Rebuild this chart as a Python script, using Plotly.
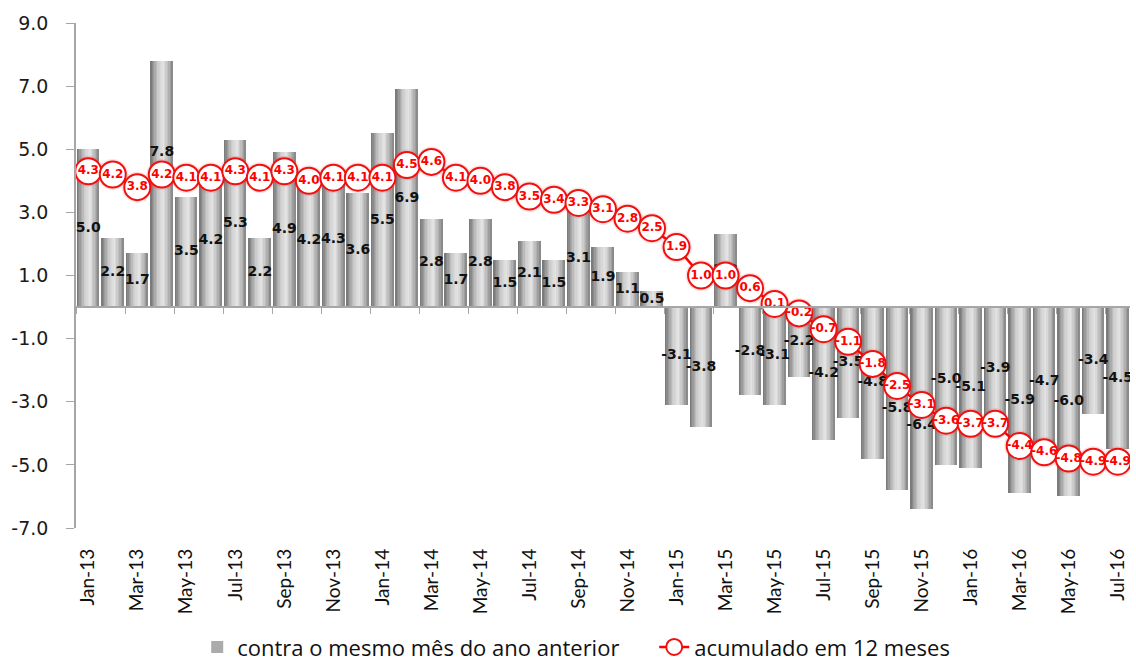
import numpy as np
import plotly.graph_objects as go

# Monthly variation (%) vs. same month of previous year, and 12-month accumulated
months = [
    "Jan-13", "Feb-13", "Mar-13", "Apr-13", "May-13", "Jun-13", "Jul-13", "Aug-13",
    "Sep-13", "Oct-13", "Nov-13", "Dec-13",
    "Jan-14", "Feb-14", "Mar-14", "Apr-14", "May-14", "Jun-14", "Jul-14", "Aug-14",
    "Sep-14", "Oct-14", "Nov-14", "Dec-14",
    "Jan-15", "Feb-15", "Mar-15", "Apr-15", "May-15", "Jun-15", "Jul-15", "Aug-15",
    "Sep-15", "Oct-15", "Nov-15", "Dec-15",
    "Jan-16", "Feb-16", "Mar-16", "Apr-16", "May-16", "Jun-16", "Jul-16",
]
mesmo_mes = [
    5.0, 2.2, 1.7, 7.8, 3.5, 4.2, 5.3, 2.2, 4.9, 4.2, 4.3, 3.6,
    5.5, 6.9, 2.8, 1.7, 2.8, 1.5, 2.1, 1.5, 3.1, 1.9, 1.1, 0.5,
    -3.1, -3.8, 2.3, -2.8, -3.1, -2.2, -4.2, -3.5, -4.8, -5.8, -6.4, -5.0,
    -5.1, -3.9, -5.9, -4.7, -6.0, -3.4, -4.5,
]
acumulado_12m = [
    4.3, 4.2, 3.8, 4.2, 4.1, 4.1, 4.3, 4.1, 4.3, 4.0, 4.1, 4.1,
    4.1, 4.5, 4.6, 4.1, 4.0, 3.8, 3.5, 3.4, 3.3, 3.1, 2.8, 2.5,
    1.9, 1.0, 1.0, 0.6, 0.1, -0.2, -0.7, -1.1, -1.8, -2.5, -3.1, -3.6,
    -3.7, -3.7, -4.4, -4.6, -4.8, -4.9, -4.9,
]
y_ticks = [-7.0, -5.0, -3.0, -1.0, 1.0, 3.0, 5.0, 7.0, 9.0]

# label nudges (y units) where the centred label would collide with a marker
label_nudge = {"Apr-13": 1.0, "Oct-15": -0.3, "Nov-15": -0.55, "Dec-15": 0.22}

n = len(months)
xs = list(range(n))
bar_w = 0.9

fig = go.Figure()

# base bar (also provides the legend swatch)
fig.add_trace(go.Bar(
    x=xs, y=mesmo_mes, width=bar_w, marker=dict(color="#ababab", line=dict(width=0)),
    name="contra o mesmo mês do ano anterior", showlegend=True, hoverinfo="skip",
))

# cylinder shading: thin vertical strips with a dark-light-dark profile
n_strips = 16
stops_pos = [0.0, 0.1, 0.35, 0.6, 0.85, 1.0]
stops_val = [115, 140, 205, 228, 175, 130]
for i in range(n_strips):
    t = (i + 0.5) / n_strips
    g = int(round(np.interp(t, stops_pos, stops_val)))
    sw = bar_w / n_strips
    fig.add_trace(go.Bar(
        x=xs, y=mesmo_mes, width=sw * 1.1, offset=-bar_w / 2 + i * sw,
        marker=dict(color=f"rgb({g},{g},{g})", line=dict(width=0)),
        showlegend=False, hoverinfo="skip",
    ))

# value labels centred in each bar
lab_y = [v / 2 + label_nudge.get(m, 0.0) for m, v in zip(months, mesmo_mes)]
fig.add_trace(go.Scatter(
    x=xs, y=lab_y, mode="text", text=[f"{v:.1f}" for v in mesmo_mes],
    textposition="middle center",
    textfont=dict(family="DejaVu Sans", size=14, color="#111111", weight="bold"),
    showlegend=False, hoverinfo="skip",
))

# soft glow under the circular markers
fig.add_trace(go.Scatter(
    x=xs, y=acumulado_12m, mode="markers",
    marker=dict(size=31, color="rgba(230,40,40,0.13)", line=dict(width=0)),
    showlegend=False, hoverinfo="skip",
))

# accumulated series: red line with white circular markers
fig.add_trace(go.Scatter(
    x=xs, y=acumulado_12m, mode="lines+markers",
    line=dict(color="#ff0000", width=2.5),
    marker=dict(size=26, color="white", line=dict(color="#f01010", width=2)),
    name="acumulado em 12 meses", hoverinfo="skip",
))
fig.add_trace(go.Scatter(
    x=xs, y=acumulado_12m, mode="text", text=[f"{v:.1f}" for v in acumulado_12m],
    textposition="middle center",
    textfont=dict(family="DejaVu Sans", size=12, color="#ff0000", weight="bold"),
    showlegend=False, hoverinfo="skip",
))

axis_grey = "#a6a6a6"
fig.update_layout(
    width=1136, height=661,
    margin=dict(l=76, r=6, t=23, b=133, autoexpand=False),
    paper_bgcolor="white", plot_bgcolor="white",
    barmode="overlay", bargap=0,
    xaxis=dict(
        range=[-0.5, n - 0.5], tickmode="array", tickvals=xs[::2], ticktext=months[::2],
        tickangle=-90, showline=False, ticks="", showgrid=False, zeroline=False,
        tickfont=dict(family="Lato", size=19, color="#111111"), ticklabelstandoff=16,
        automargin=False,
    ),
    xaxis2=dict(
        overlaying="x", anchor="free", position=7 / 16, range=[-0.5, n - 0.5],
        tickmode="array", tickvals=[x - 0.5 for x in xs[::2]], ticks="outside",
        ticklen=6, tickcolor=axis_grey, tickwidth=1, showticklabels=False,
        showline=True, linecolor=axis_grey, linewidth=1.5, showgrid=False, zeroline=False,
    ),
    yaxis=dict(
        range=[-7, 9], tickmode="array", tickvals=y_ticks,
        ticktext=[f"{v:.1f}" for v in y_ticks], showgrid=False, zeroline=False,
        showline=True, linecolor=axis_grey, linewidth=1.5, ticks="outside", ticklen=8,
        tickcolor=axis_grey, ticklabelstandoff=14, automargin=False,
        tickfont=dict(family="DejaVu Sans", size=19, color="#1a1a1a"),
    ),
    legend=dict(
        orientation="h", x=0.115, xanchor="left", y=-0.236, yanchor="middle",
        font=dict(family="Open Sans", size=22, color="#111111"), itemsizing="trace",
        traceorder="normal", entrywidth=412, entrywidthmode="pixels",
    ),
    showlegend=True,
)

# dummy trace to activate xaxis2 for the zero-line tick marks
fig.add_trace(go.Scatter(x=[0], y=[0], xaxis="x2", mode="markers",
                         marker=dict(opacity=0), showlegend=False, hoverinfo="skip"))

fig.write_html("out.html")
